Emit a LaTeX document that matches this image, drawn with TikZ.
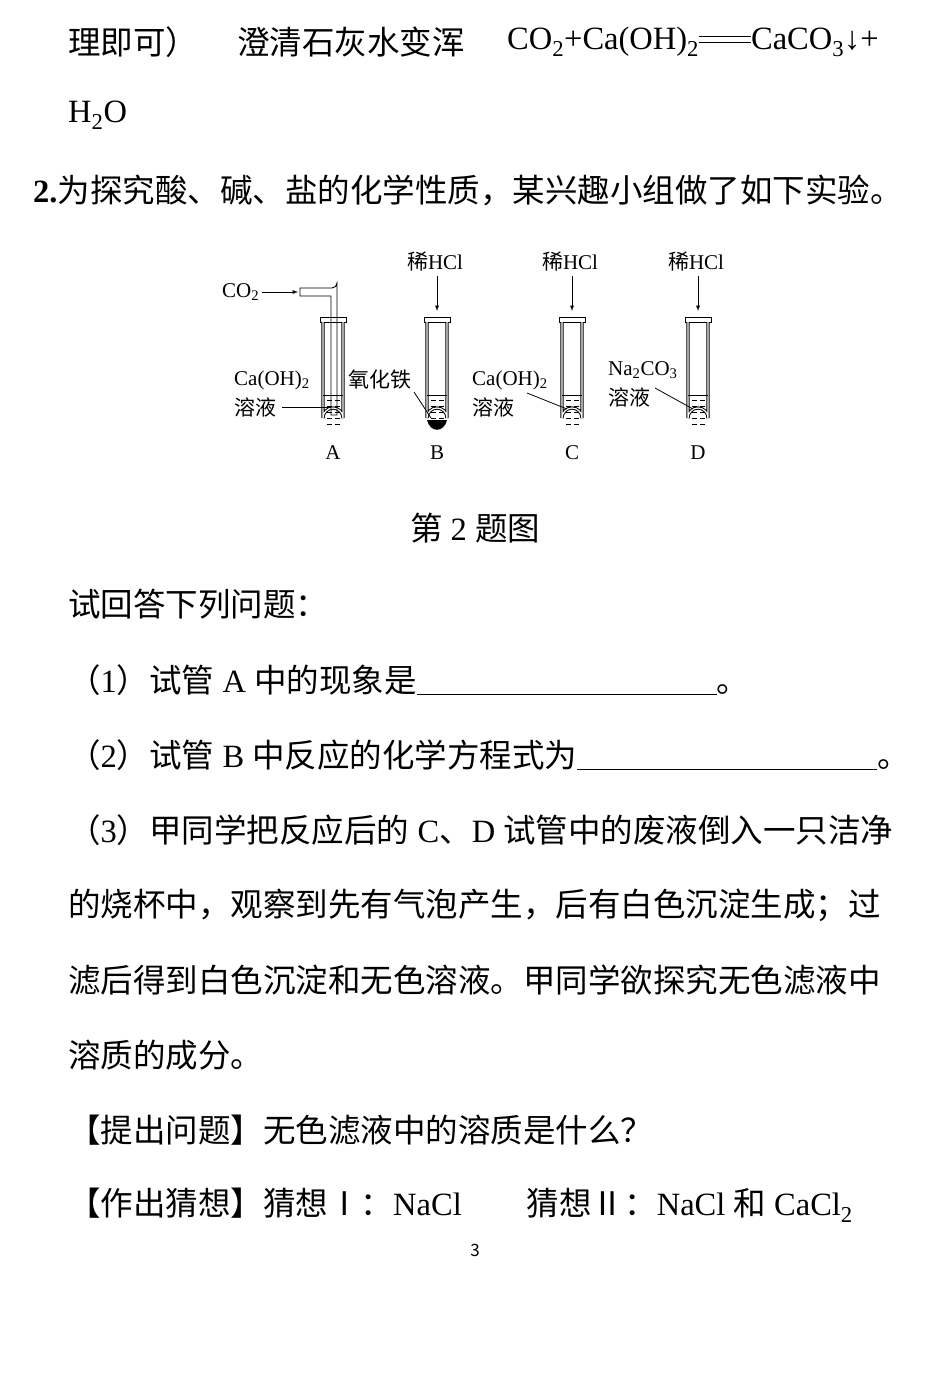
\documentclass[tikz,border=0pt]{standalone}
\usepackage{fontspec}
\setmainfont{Noto Sans CJK SC}
\newfontfamily\lt{Liberation Serif}
\newcommand\dbleq{\raisebox{0.22em}{\rlap{\rule{1.6em}{0.9pt}}\raisebox{0.18em}{\rule{1.6em}{0.9pt}}}}
\begin{document}
\begin{tikzpicture}[x=1pt,y=-1pt,
  body/.style={anchor=west,inner sep=0pt,font=\fontsize{32.5}{34}\selectfont},
  dg/.style={inner sep=0pt,font=\fontsize{21}{23}\selectfont},
  tube/.style={line width=1pt}]
\useasboundingbox[fill=white] (0,0) rectangle (950,1381);
% text
\node[body] (l1a) at (68,42) {理即可）};
\node[body] (l1b) at (237,42) {澄清石灰水变浑};
\node[body] (l1c) at (507,42) {\lt CO\textsubscript{2}+Ca(OH)\textsubscript{2}\dbleq CaCO\textsubscript{3}↓+};
\node[body] (l2) at (68,115) {\lt H\textsubscript{2}O};
\node[body] (q2) at (33,190) {{\lt\bfseries 2.}为探究酸、碱、盐的化学性质，某兴趣小组做了如下实验。};
\node[body,anchor=center] (cap) at (475,528) {第{\lt\ 2 }题图};
\node[body] (t0) at (68,604) {试回答下列问题：};
\node[body] (t1) at (68,680) {（{\lt 1}）试管{\lt\ A }中的现象是\rule[-3pt]{300pt}{1.2pt}。};
\node[body] (t2) at (68,755) {（{\lt 2}）试管{\lt\ B }中反应的化学方程式为\rule[-3pt]{300pt}{1.2pt}。};
\node[body] (t3) at (68,830) {（{\lt 3}）甲同学把反应后的{\lt\ C}、{\lt D }试管中的废液倒入一只洁净};
\node[body] (t4) at (68,905) {的烧杯中，观察到先有气泡产生，后有白色沉淀生成；过};
\node[body] (t5) at (68,980) {滤后得到白色沉淀和无色溶液。甲同学欲探究无色滤液中};
\node[body] (t6) at (68,1055) {溶质的成分。};
\node[body] (t7) at (68,1130) {【提出问题】无色滤液中的溶质是什么？};
\node[body] (t8) at (68,1205) {【作出猜想】猜想Ⅰ：{\lt NaCl}\hspace{2em}猜想Ⅱ：{\lt NaCl }和{\lt\ CaCl\textsubscript{2}}};
\node[inner sep=0pt,font=\fontsize{17}{19}\selectfont] (pg) at (475,1250) {3};
% tubes
\foreach \x/\n in {333/A,437/B,572/C,698/D}{
  \draw[tube] (\x-13,317) rectangle (\x+13,322);
  \draw[tube,double distance=1.2pt] (\x-10,322) -- (\x-10,418) arc[start angle=180,end angle=360,radius=10] -- (\x+10,322);
  \draw[line width=0.6pt] (\x-10,395) -- (\x+10,395);
  \foreach \yy in {400,406,412,418,424}{
    \draw[line width=0.7pt] (\x-6,\yy) -- (\x-1,\yy) (\x+2,\yy) -- (\x+7,\yy);}
  \node[dg,font=\fontsize{21}{23}\selectfont\lt] (L\n) at (\x,453) {\n};
}
% A gas tube
\node[dg,anchor=west,font=\fontsize{21}{23}\selectfont\lt] (co2) at (222,292) {CO\textsubscript{2}};
\coordinate (pin) at (298,292);
\draw[-latex,line width=0.9pt] (co2.east) ++(3,0) -- (pin);
\draw[line width=0.9pt] (300,288) -- (332,288) arc[start angle=90,end angle=0,radius=5] -- (337,415) -- (331,415) -- (331,296) -- (300,296) -- cycle;
\node[dg,anchor=west] (aL1) at (234,380) {\lt Ca(OH)\textsubscript{2}};
\node[dg,anchor=west] (aL2) at (234,407) {溶液};
\draw[line width=0.8pt] (aL2.east) ++(6,0) -- (330,407);
% B
\fill (427,420) .. controls (430,433) and (444,433) .. (447,420) -- cycle;
\node[dg,anchor=west] (bL) at (348,380) {氧化铁};
\draw[line width=0.8pt] (414,392) -- (431,418);
% C
\node[dg,anchor=west] (cL1) at (472,380) {\lt Ca(OH)\textsubscript{2}};
\node[dg,anchor=west] (cL2) at (472,407) {溶液};
\draw[line width=0.8pt] (527,393) -- (567,409);
% D
\node[dg,anchor=west] (dL1) at (608,370) {\lt Na\textsubscript{2}CO\textsubscript{3}};
\node[dg,anchor=west] (dL2) at (608,397) {溶液};
\draw[line width=0.8pt] (655,388) -- (693,409);
% HCl arrows
\foreach \x/\n in {437/B,572/C,698/D}{
  \node[dg] (h\n) at (\x-2,262) {稀{\lt HCl}};
  \draw[-latex,line width=0.9pt] (\x,276) -- (\x,311);
}
\end{tikzpicture}
\end{document}
